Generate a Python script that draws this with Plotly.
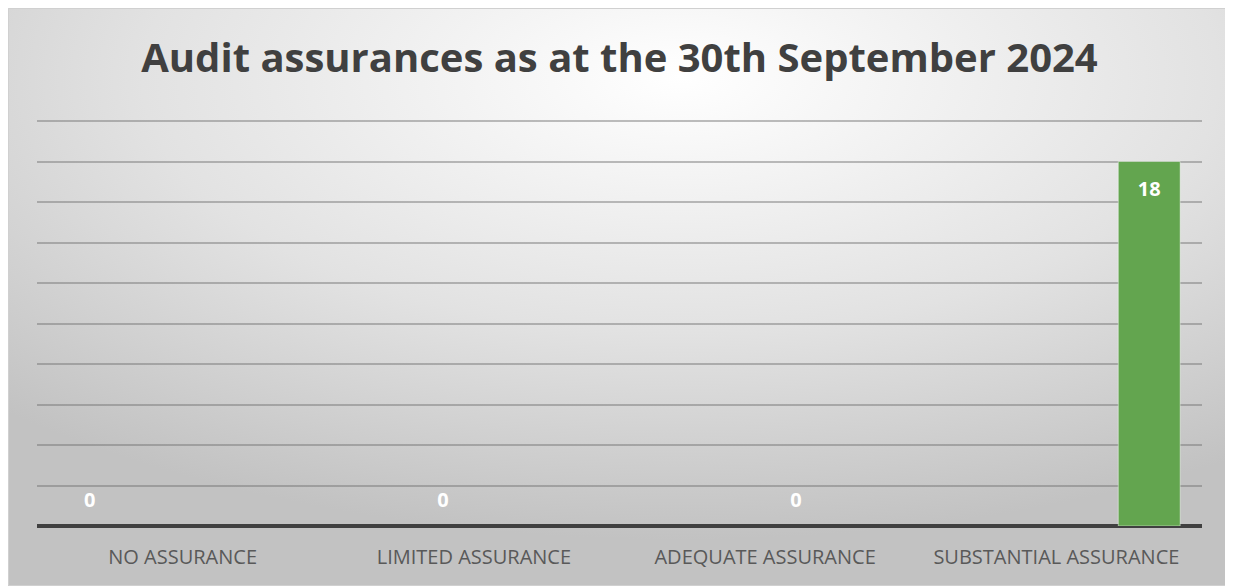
import base64

import plotly.graph_objects as go

categories = ['NO ASSURANCE', 'LIMITED ASSURANCE', 'ADEQUATE ASSURANCE', 'SUBSTANTIAL ASSURANCE']
series_names = ['No Assurance', 'Limited Assurance', 'Adequate Assurance', 'Substantial Assurance']
series_values = [0, 0, 0, 18]
bar_colors = ['#4472c4', '#ed7d31', '#a5a5a5', '#63a54f']

# figure sits inside the page's 8px body margin
W, H = 1223, 578
L, R, T, B = 29, 29, 112, 60
plot_w, plot_h = W - L - R, H - T - B

# radial grey background like the Excel chart style
svg = (
    '<svg xmlns="http://www.w3.org/2000/svg" width="1223" height="578" preserveAspectRatio="none">'
    '<defs><radialGradient id="g" cx="0.55" cy="0.12" r="0.8">'
    '<stop offset="0" stop-color="#ffffff"/><stop offset="0.55" stop-color="#e2e2e2"/>'
    '<stop offset="1" stop-color="#c2c2c2"/></radialGradient></defs>'
    '<rect width="1223" height="578" fill="url(#g)"/></svg>'
)
bg_src = 'data:image/svg+xml;base64,' + base64.b64encode(svg.encode()).decode()


def px_x(x):
    return (x - L) / plot_w


def px_y(y):
    return (H - B - y) / plot_h


fig = go.Figure()
for i, (name, val) in enumerate(zip(series_names, series_values)):
    ys = [None] * len(categories)
    ys[i] = val
    if val > 0:
        # tiny spacer line pushes the label a bit down from the bar top
        label = '<span style="font-size:5px">\u00a0</span><br>' + str(val)
        fsize = 20
    else:
        # small spacer line lifts the zero label off the axis
        label = '<span style="font-size:20px">' + str(val) + '</span><br>\u00a0'
        fsize = 10
    fig.add_trace(go.Bar(
        x=categories, y=ys, name=name,
        marker=dict(color=bar_colors[i],
                    line=dict(color='rgba(255,255,255,0.45)', width=1 if val > 0 else 0)),
        text=[label if v is not None else None for v in ys],
        textposition='inside' if val > 0 else 'outside',
        insidetextanchor='end',
        textfont=dict(family='Open Sans', size=fsize, color='white', weight='bold'),
        cliponaxis=False,
    ))

fig.update_layout(
    width=W, height=H,
    margin=dict(l=L, r=R, t=T, b=B),
    paper_bgcolor='white',
    plot_bgcolor='rgba(0,0,0,0)',
    barmode='group', bargap=0.15, bargroupgap=0.0,
    showlegend=False,
    title=dict(text='<b>Audit assurances as at the 30th September 2024</b>',
               x=0.5, xanchor='center', y=0.913, yanchor='middle',
               font=dict(family='Open Sans', size=40, color='#404040')),
    images=[dict(source=bg_src, xref='paper', yref='paper',
                 x=px_x(0), y=px_y(0), sizex=W / plot_w, sizey=H / plot_h,
                 xanchor='left', yanchor='top', sizing='stretch', layer='below')],
    shapes=[dict(type='rect', xref='paper', yref='paper',
                 x0=px_x(0.5), x1=px_x(W - 0.5), y0=px_y(H - 0.5), y1=px_y(0.5),
                 line=dict(color='#d0d0d0', width=1), layer='below')],
    font=dict(family='Open Sans'),
)
fig.update_xaxes(showgrid=False, ticks='', showline=False, ticklabelstandoff=17,
                 tickfont=dict(family='Open Sans', size=20, color='#595959'))
fig.update_yaxes(range=[0, 20.05], tickvals=[2, 4, 6, 8, 10, 12, 14, 16, 18, 20],
                 showticklabels=False,
                 showgrid=True, gridcolor='rgba(110,110,110,0.45)', gridwidth=1.5,
                 zeroline=True, zerolinecolor='#404040', zerolinewidth=4)

fig.write_html('out.html')
